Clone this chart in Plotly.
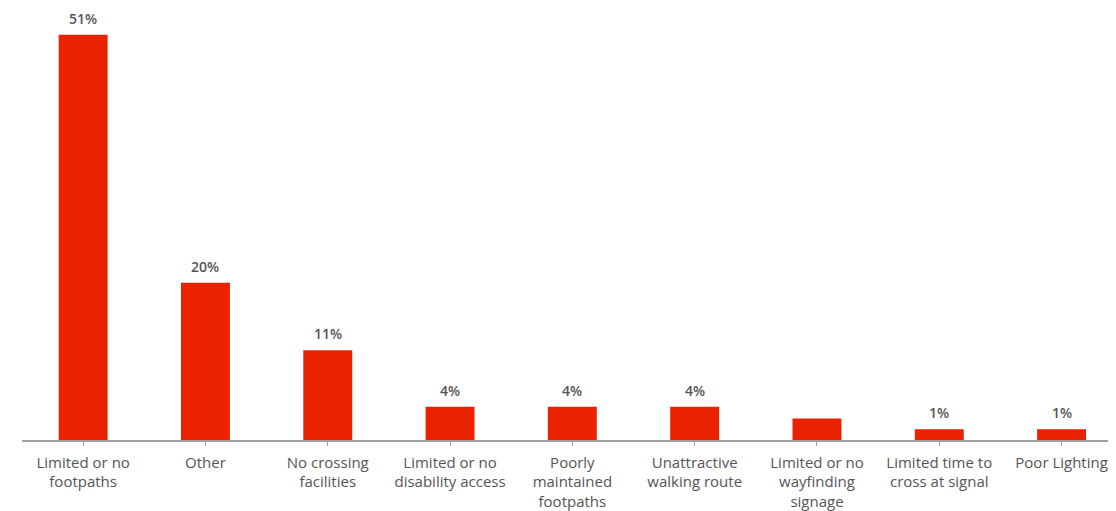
import plotly.graph_objects as go

categories = [
    "Limited or no<br>footpaths",
    "Other",
    "No crossing<br>facilities",
    "Limited or no<br>disability access",
    "Poorly<br>maintained<br>footpaths",
    "Unattractive<br>walking route",
    "Limited or no<br>wayfinding<br>signage",
    "Limited time to<br>cross at signal",
    "Poor Lighting",
]
values = [51, 19.8, 11.3, 4.2, 4.2, 4.2, 2.7, 1.35, 1.35]
value_labels = ["51%", "20%", "11%", "4%", "4%", "4%", "", "1%", "1%"]

bar_color = "#EB2200"
text_color = "#555555"
font_family = "'Open Sans', Lato, sans-serif"

fig = go.Figure()
fig.add_trace(go.Bar(
    x=list(range(len(categories))),
    y=values,
    marker=dict(color=bar_color, line=dict(width=0)),
    width=0.4,
    hoverinfo="skip",
))

for i, (v, lab) in enumerate(zip(values, value_labels)):
    if lab:
        fig.add_annotation(
            x=i, y=v, text=lab, showarrow=False,
            yanchor="bottom", yshift=5,
            font=dict(family=font_family, size=14, color=text_color, weight=600),
        )

fig.update_layout(
    width=1108, height=503,
    margin=dict(l=14, r=0, t=3, b=71),
    paper_bgcolor="white", plot_bgcolor="white",
    showlegend=False,
    font=dict(family=font_family, size=15, color=text_color),
    xaxis=dict(
        range=[-0.5, 8.445],
        tickmode="array",
        tickvals=list(range(len(categories))),
        ticktext=categories,
        tickson="boundaries",
        ticks="outside", ticklen=4, tickcolor="#a0a0a0", tickwidth=1,
        showline=True, linecolor="#a0a0a0", linewidth=1.5,
        showgrid=False, zeroline=False,
        ticklabelstandoff=4,
        automargin=False,
        tickfont=dict(family=font_family, size=15, color=text_color),
    ),
    yaxis=dict(
        range=[0, 54], visible=False, showgrid=False, zeroline=False,
    ),
)

fig.write_html("out.html")
